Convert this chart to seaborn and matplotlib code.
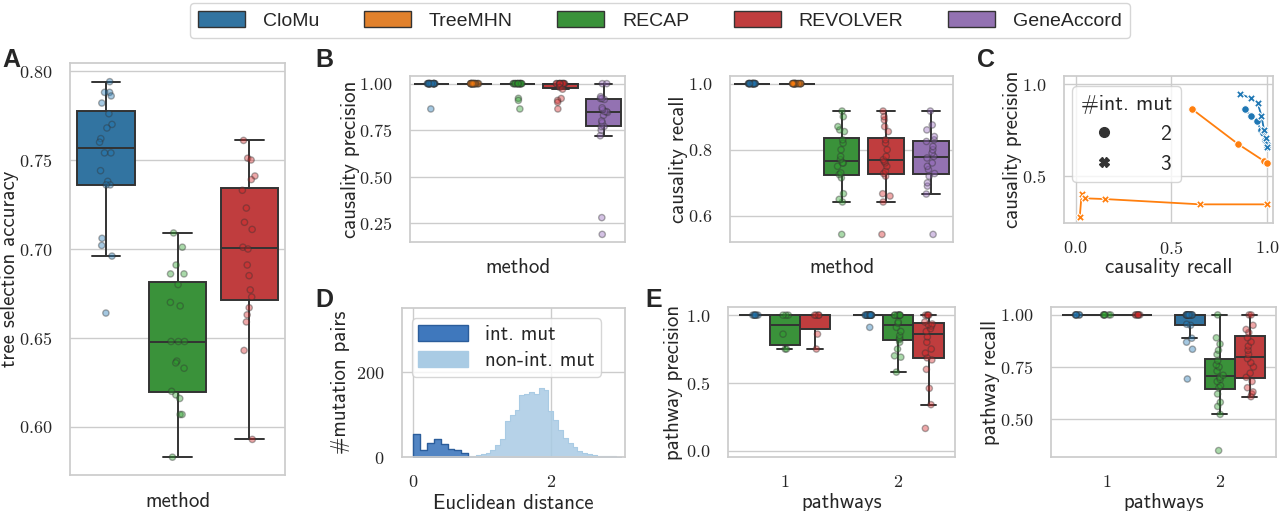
import numpy as np
import pandas as pd
import seaborn as sns
import matplotlib.pyplot as plt
from matplotlib.patches import Patch
from matplotlib.lines import Line2D

sns.set_theme(style="whitegrid")
plt.rcParams["font.family"] = ["cmss10", "DejaVu Sans"]
plt.rcParams["axes.unicode_minus"] = False
plt.rcParams["mathtext.fontset"] = "cm"

METHODS = ["CloMu", "TreeMHN", "RECAP", "REVOLVER", "GeneAccord"]
palette = dict(zip(METHODS, sns.color_palette("tab10", 5)))

# A: tree selection accuracy
A_CLOMU = [0.794, 0.788, 0.788, 0.786, 0.782, 0.776, 0.770, 0.768, 0.762, 0.760,
           0.754, 0.754, 0.744, 0.738, 0.736, 0.736, 0.706, 0.702, 0.696, 0.664]
A_RECAP = [0.709, 0.701, 0.691, 0.686, 0.686, 0.680, 0.670, 0.668, 0.648, 0.648,
           0.648, 0.637, 0.636, 0.633, 0.620, 0.618, 0.616, 0.607, 0.607, 0.583]
A_REVOLVER = [0.761, 0.751, 0.750, 0.741, 0.739, 0.733, 0.723, 0.715, 0.711, 0.701,
              0.700, 0.691, 0.685, 0.677, 0.673, 0.667, 0.663, 0.659, 0.643, 0.593]

# B: causality precision / recall
BP_CLOMU = [1.0] * 19 + [0.864]
BP_TREEMHN = [1.0] * 20
BP_RECAP = [1.0] * 17 + [0.921, 0.91, 0.864]
BP_REVOLVER = [1.0] * 14 + [0.98, 0.97, 0.92, 0.91, 0.90, 0.864]
BP_GENEACCORD = [0.19, 0.28, 0.72, 0.75, 0.77, 0.77, 0.79, 0.80, 0.83, 0.845,
                 0.85, 0.85, 0.86, 0.87, 0.915, 0.92, 0.92, 0.93, 1.0, 1.0]

BR_CLOMU = [1.0] * 20
BR_TREEMHN = [1.0] * 20
BR_RECAP = [0.544, 0.642, 0.65, 0.667, 0.715, 0.725, 0.73, 0.75, 0.76, 0.76,
            0.77, 0.78, 0.80, 0.82, 0.83, 0.855, 0.86, 0.87, 0.90, 0.917]
BR_REVOLVER = [0.544, 0.642, 0.66, 0.667, 0.72, 0.728, 0.735, 0.75, 0.76, 0.765,
               0.77, 0.78, 0.80, 0.82, 0.83, 0.855, 0.87, 0.89, 0.90, 0.917]
BR_GENEACCORD = [0.544, 0.666, 0.69, 0.70, 0.72, 0.728, 0.74, 0.75, 0.76, 0.775,
                 0.78, 0.79, 0.80, 0.81, 0.825, 0.83, 0.84, 0.86, 0.875, 0.917]

# C: precision-recall curves
C_CLOMU2_R = [0.883, 0.916, 0.946, 0.966, 0.978, 0.988, 0.997, 1.0]
C_CLOMU2_P = [0.863, 0.827, 0.800, 0.750, 0.735, 0.695, 0.673, 0.655]
C_CLOMU3_R = [0.856, 0.916, 0.950, 0.970, 0.983, 0.992, 1.0]
C_CLOMU3_P = [0.947, 0.923, 0.896, 0.827, 0.750, 0.704, 0.659]
C_TREEMHN2_R = [0.609, 0.849, 0.983, 1.0]
C_TREEMHN2_P = [0.863, 0.672, 0.580, 0.571]
C_TREEMHN3_R = [0.022, 0.032, 0.049, 0.153, 0.651, 1.0]
C_TREEMHN3_P = [0.272, 0.400, 0.376, 0.372, 0.343, 0.343]

# D: histogram of euclidean distances
D_INT_CENTERS = [0.05, 0.15, 0.25, 0.35, 0.45, 0.55, 0.65, 0.75]
D_INT_COUNTS = [55, 17, 32, 42, 31, 18, 17, 10]
D_NONINT_CENTERS = [0.805, 0.875, 0.945, 1.015, 1.085, 1.155, 1.225, 1.295, 1.365, 1.435,
                    1.505, 1.575, 1.645, 1.715, 1.785, 1.855, 1.925, 1.995, 2.065, 2.135,
                    2.205, 2.275, 2.345, 2.415, 2.485, 2.555, 2.625, 2.695, 2.765, 2.835,
                    2.905, 2.975]
D_NONINT_COUNTS = [2, 3, 4, 6, 10, 16, 28, 42, 86, 100,
                   112, 146, 150, 154, 150, 162, 158, 108, 88, 64,
                   44, 32, 23, 15, 10, 7, 5, 3, 3, 2,
                   2, 1]

# E: pathway precision / recall, by number of pathways
E_METHODS = ["CloMu", "RECAP", "REVOLVER"]
EP_1_CLOMU = [1.0] * 6
EP_1_RECAP = [1.0, 1.0, 1.0, 0.86, 0.75, 0.75]
EP_1_REVOLVER = [1.0, 1.0, 1.0, 1.0, 0.86, 0.75]
EP_2_CLOMU = [1.0] * 19 + [0.91]
EP_2_RECAP = [0.58, 0.69, 0.70, 0.75, 0.80, 0.82, 0.83, 0.85, 0.88, 0.91,
              0.94, 0.95] + [1.0] * 8
EP_2_REVOLVER = [0.165, 0.34, 0.46, 0.60, 0.67, 0.685, 0.72, 0.75, 0.80, 0.84,
                 0.88, 0.90, 0.92, 0.93, 0.935, 0.95, 1.0, 1.0, 1.0, 1.0]
ER_1_CLOMU = [1.0] * 6
ER_1_RECAP = [1.0] * 6
ER_1_REVOLVER = [1.0] * 6
ER_2_CLOMU = [0.692, 0.835, 0.869, 0.888, 0.95, 0.955] + [1.0] * 14
ER_2_RECAP = [0.348, 0.522, 0.56, 0.58, 0.62, 0.65, 0.66, 0.68, 0.69, 0.70,
              0.71, 0.73, 0.75, 0.76, 0.78, 0.81, 0.83, 0.86, 0.89, 1.0]
ER_2_REVOLVER = [0.607, 0.62, 0.63, 0.65, 0.68, 0.70, 0.72, 0.75, 0.77, 0.79,
                 0.81, 0.83, 0.85, 0.87, 0.89, 0.915, 0.93, 0.95, 1.0, 1.0]

LABEL_FS = 15
TICK_FS = 13


def long_df(groups, col):
    rows = []
    for keys, vals in groups:
        for v in vals:
            rows.append(dict(keys, **{col: v}))
    return pd.DataFrame(rows)


def box_strip(ax, df, x, y, hue, order, hue_order, dodge):
    sns.boxplot(data=df, x=x, y=y, hue=hue, order=order, hue_order=hue_order,
                palette=palette, showfliers=False, linecolor="0.2", linewidth=1.4,
                dodge=dodge, legend=False, ax=ax)
    sns.stripplot(data=df, x=x, y=y, hue=hue, order=order, hue_order=hue_order,
                  palette=palette, size=4.5, alpha=0.4, edgecolor="0.2", linewidth=1,
                  dodge=dodge, legend=False, ax=ax)


def math_ticks(labels):
    return [r"$%s$" % s for s in labels]


def style_ax(ax, xlab, ylab, ylx, xly):
    ax.set_xlabel(xlab, fontsize=LABEL_FS)
    ax.set_ylabel(ylab, fontsize=LABEL_FS)
    ax.yaxis.set_label_coords(ylx, 0.5)
    ax.xaxis.set_label_coords(0.5, xly)
    ax.tick_params(axis="y", pad=6.5, labelsize=TICK_FS)
    ax.tick_params(axis="x", pad=6, labelsize=TICK_FS)


fig = plt.figure(figsize=(12.8, 5.11), dpi=100)
W, H = 1280, 511


def add_ax(l, r, t, b):
    return fig.add_axes([l / W, 1 - b / H, (r - l) / W, (b - t) / H])


# ---- A
axA = add_ax(70, 285, 63, 475)
dfA = long_df([({"method": "CloMu"}, A_CLOMU), ({"method": "RECAP"}, A_RECAP),
               ({"method": "REVOLVER"}, A_REVOLVER)], "acc")
box_strip(axA, dfA, "method", "acc", "method", ["CloMu", "RECAP", "REVOLVER"],
          ["CloMu", "RECAP", "REVOLVER"], False)
axA.set_ylim(0.573, 0.8045)
axA.set_yticks([0.60, 0.65, 0.70, 0.75, 0.80])
axA.set_yticklabels(math_ticks(["0.60", "0.65", "0.70", "0.75", "0.80"]))
axA.set_xticks([])
style_ax(axA, "method", "tree selection accuracy", -0.235, -0.041)

# ---- B left
axB1 = add_ax(410, 625, 76, 242)
dfB1 = long_df([({"method": m}, v) for m, v in zip(
    METHODS, [BP_CLOMU, BP_TREEMHN, BP_RECAP, BP_REVOLVER, BP_GENEACCORD])], "val")
box_strip(axB1, dfB1, "method", "val", "method", METHODS, METHODS, False)
axB1.set_ylim(0.149, 1.041)
axB1.set_yticks([0.25, 0.50, 0.75, 1.00])
axB1.set_yticklabels(math_ticks(["0.25", "0.50", "0.75", "1.00"]))
axB1.set_xticks([])
style_ax(axB1, "method", "causality precision", -0.233, -0.096)

# ---- B right
axB2 = add_ax(730, 953, 76, 242)
dfB2 = long_df([({"method": m}, v) for m, v in zip(
    METHODS, [BR_CLOMU, BR_TREEMHN, BR_RECAP, BR_REVOLVER, BR_GENEACCORD])], "val")
box_strip(axB2, dfB2, "method", "val", "method", METHODS, METHODS, False)
axB2.set_ylim(0.521, 1.023)
axB2.set_yticks([0.6, 0.8, 1.0])
axB2.set_yticklabels(math_ticks(["0.6", "0.8", "1.0"]))
axB2.set_xticks([])
style_ax(axB2, "method", "causality recall", -0.19, -0.096)

# ---- C
axC = add_ax(1064, 1273, 76, 223)
dfC = pd.concat([
    pd.DataFrame({"recall": C_CLOMU2_R, "precision": C_CLOMU2_P, "method": "CloMu", "mut": 2}),
    pd.DataFrame({"recall": C_CLOMU3_R, "precision": C_CLOMU3_P, "method": "CloMu", "mut": 3}),
    pd.DataFrame({"recall": C_TREEMHN2_R, "precision": C_TREEMHN2_P, "method": "TreeMHN", "mut": 2}),
    pd.DataFrame({"recall": C_TREEMHN3_R, "precision": C_TREEMHN3_P, "method": "TreeMHN", "mut": 3}),
], ignore_index=True)
sns.lineplot(data=dfC, x="recall", y="precision", hue="method", style="mut",
             palette=palette, markers={2: "o", 3: "X"}, dashes=False, markersize=5.5,
             linewidth=1.3, estimator=None, legend=False, ax=axC)
axC.set_xlim(-0.06, 1.03)
axC.set_ylim(0.241, 1.045)
axC.set_xticks([0.0, 0.5, 1.0])
axC.set_xticklabels(math_ticks(["0.0", "0.5", "1.0"]))
axC.set_yticks([0.5, 1.0])
axC.set_yticklabels(math_ticks(["0.5", "1.0"]))
style_ax(axC, "causality recall", "causality precision", -0.2, -0.238)
hC = [Line2D([], [], marker="o", color="0.2", linestyle="", markersize=7),
      Line2D([], [], marker="X", color="0.2", linestyle="", markersize=7)]
axC.legend(hC, ["2", "3"], title="#int. mut", loc="upper left",
           bbox_to_anchor=(0.04, 0.93), borderaxespad=0, fontsize=15.5,
           title_fontsize=15.5, handletextpad=1.6)

# ---- D
axD = add_ax(402, 625, 308, 457)
sns.histplot(x=D_NONINT_CENTERS, weights=D_NONINT_COUNTS, binwidth=0.07,
             binrange=(0.77, 3.01), element="step", color="#a9cbe4", alpha=0.85,
             edgecolor="#a9cbe4", linewidth=0.8, ax=axD)
sns.histplot(x=D_INT_CENTERS, weights=D_INT_COUNTS, binwidth=0.1, binrange=(0.0, 0.8),
             element="step", color="#3f78bd", alpha=0.9, edgecolor="#2b5d9b",
             linewidth=1, ax=axD)
axD.set_xlim(-0.16, 3.07)
axD.set_ylim(0, 352)
axD.set_xticks([0, 2])
axD.set_xticklabels(math_ticks(["0", "2"]))
axD.set_yticks([0, 200])
axD.set_yticklabels(math_ticks(["0", "200"]))
style_ax(axD, "Euclidean distance", "#mutation pairs", -0.233, -0.245)
hD = [Patch(facecolor="#3f78bd", edgecolor="#2b5d9b"),
      Patch(facecolor="#a9cbe4", edgecolor="#a9cbe4")]
axD.legend(hD, ["int. mut", "non-int. mut"], loc="upper left", fontsize=15,
           handlelength=2.4, handleheight=0.8, bbox_to_anchor=(0.045, 0.93),
           borderaxespad=0, borderpad=0.3, labelspacing=0.35)

# ---- E
dfEP = long_df([
    ({"pathways": "1", "method": "CloMu"}, EP_1_CLOMU),
    ({"pathways": "1", "method": "RECAP"}, EP_1_RECAP),
    ({"pathways": "1", "method": "REVOLVER"}, EP_1_REVOLVER),
    ({"pathways": "2", "method": "CloMu"}, EP_2_CLOMU),
    ({"pathways": "2", "method": "RECAP"}, EP_2_RECAP),
    ({"pathways": "2", "method": "REVOLVER"}, EP_2_REVOLVER),
], "val")
dfER = long_df([
    ({"pathways": "1", "method": "CloMu"}, ER_1_CLOMU),
    ({"pathways": "1", "method": "RECAP"}, ER_1_RECAP),
    ({"pathways": "1", "method": "REVOLVER"}, ER_1_REVOLVER),
    ({"pathways": "2", "method": "CloMu"}, ER_2_CLOMU),
    ({"pathways": "2", "method": "RECAP"}, ER_2_RECAP),
    ({"pathways": "2", "method": "REVOLVER"}, ER_2_REVOLVER),
], "val")

axE1 = add_ax(728, 955, 307, 457)
box_strip(axE1, dfEP, "pathways", "val", "method", ["1", "2"], E_METHODS, True)
axE1.set_ylim(-0.046, 1.06)
axE1.set_xticks([0, 1])
axE1.set_xticklabels(math_ticks(["1", "2"]))
axE1.set_yticks([0.0, 0.5, 1.0])
axE1.set_yticklabels(math_ticks(["0.0", "0.5", "1.0"]))
style_ax(axE1, "pathways", "pathway precision", -0.2, -0.24)

axE2 = add_ax(1051, 1276, 307, 457)
box_strip(axE2, dfER, "pathways", "val", "method", ["1", "2"], E_METHODS, True)
axE2.set_ylim(0.317, 1.038)
axE2.set_xticks([0, 1])
axE2.set_xticklabels(math_ticks(["1", "2"]))
axE2.set_yticks([0.50, 0.75, 1.00])
axE2.set_yticklabels(math_ticks(["0.50", "0.75", "1.00"]))
style_ax(axE2, "pathways", "pathway recall", -0.225, -0.24)

# panel letters
for letter, x, y in [("A", 2, 67), ("B", 315, 67), ("C", 977, 67), ("D", 315, 307), ("E", 645, 307)]:
    fig.text(x / W, 1 - y / H, letter, fontsize=18, fontweight="bold",
             family="Liberation Sans", va="baseline", ha="left")

# shared method legend
handles = [Patch(facecolor=sns.desaturate(palette[m], 0.75), edgecolor="0.2", linewidth=1)
           for m in METHODS]
leg = fig.legend(handles, METHODS, loc="center", bbox_to_anchor=(0.5156, 0.96), ncol=5,
                 prop={"family": "Liberation Sans", "size": 14}, handlelength=2.4,
                 handleheight=0.9, handletextpad=0.93, columnspacing=2.3, frameon=True)

fig.savefig("out.png", dpi=100)
